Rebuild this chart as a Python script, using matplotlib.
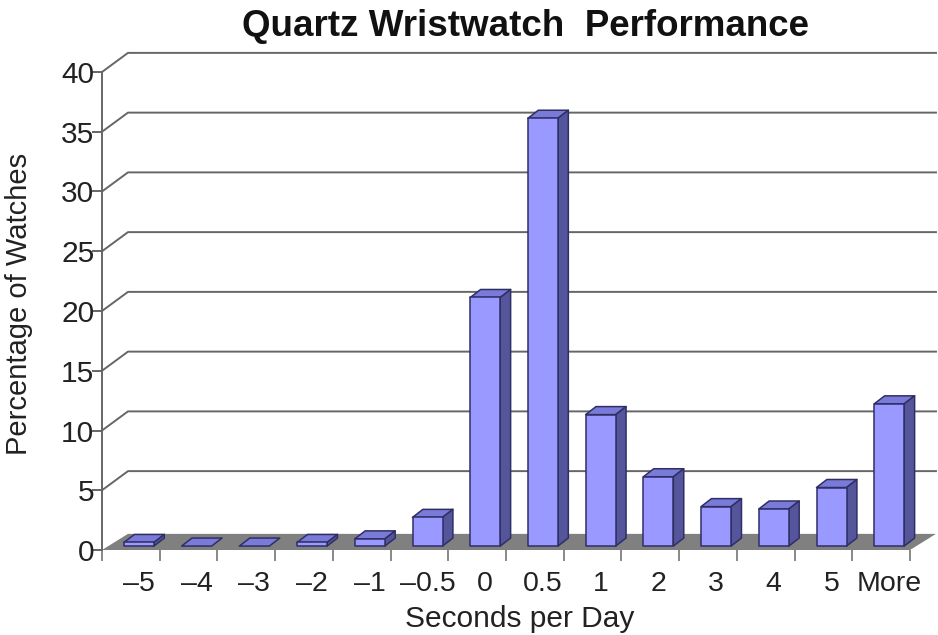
"""Quartz wristwatch chart, Excel style fake 3D columns."""

import matplotlib
matplotlib.use("Agg")
import matplotlib.pyplot as plt
from matplotlib.patches import Polygon

categories = ["–5", "–4", "–3", "–2", "–1", "–0.5", "0", "0.5", "1", "2", "3", "4", "5", "More"]
percent = [0.3, 0.0, 0.0, 0.3, 0.6, 2.4, 20.8, 35.8, 11.0, 5.8, 3.3, 3.1, 4.9, 11.9]
y_ticks = [0, 5, 10, 15, 20, 25, 30, 35, 40]

# depth of the fake 3D, in data units
WALL_DX, WALL_DY, FLOOR_DY = 0.45, 1.6, 1.35
BAR_DX, BAR_DY = 0.18, 0.67
BAR_LEFT, BAR_W, BAR_BASE = 0.38, 0.52, 0.33

GRID = "#666666"
FACE, TOP, SIDE, EDGE = "#9999ff", "#7a7ad8", "#55559c", "#2f2f66"

plt.rcParams["font.family"] = ["Liberation Sans", "DejaVu Sans"]

fig = plt.figure(figsize=(9.38, 6.35), dpi=100)
ax = fig.add_axes([102 / 938, 1 - 550 / 635, 808 / 938, 478 / 635])
n = len(categories)
ax.set_xlim(0, n)
ax.set_ylim(0, 40)
for s in ("top", "right", "bottom"):
    ax.spines[s].set_visible(False)
ax.spines["left"].set_color(GRID)
ax.spines["left"].set_linewidth(1.4)

# floor
ax.add_patch(Polygon([(0, 0), (WALL_DX, FLOOR_DY), (n + WALL_DX, FLOOR_DY), (n, 0)],
                     closed=True, fc="#808080", ec="none", clip_on=False, zorder=1))

# gridlines on the wall, with the slanted bit on the left
for v in y_ticks[1:]:
    ax.plot([0, WALL_DX, n + WALL_DX], [v, v + WALL_DY, v + WALL_DY],
            color=GRID, lw=1.4, clip_on=False, zorder=2)

# columns
for i, v in enumerate(percent):
    x0 = i + BAR_LEFT
    x1 = x0 + BAR_W
    y0 = BAR_BASE
    y1 = BAR_BASE + v
    kw = dict(closed=True, ec=EDGE, lw=1.1, clip_on=False, zorder=3, joinstyle="round")
    ax.add_patch(Polygon([(x0, y1), (x1, y1), (x1 + BAR_DX, y1 + BAR_DY), (x0 + BAR_DX, y1 + BAR_DY)],
                         fc=TOP, **kw))
    if v > 0:
        ax.add_patch(Polygon([(x1, y0), (x1 + BAR_DX, y0 + BAR_DY), (x1 + BAR_DX, y1 + BAR_DY), (x1, y1)],
                             fc=SIDE, **kw))
        ax.add_patch(Polygon([(x0, y0), (x1, y0), (x1, y1), (x0, y1)], fc=FACE, **kw))

ax.set_yticks(y_ticks)
ax.tick_params(axis="y", labelsize=21.5, length=7, width=1.4, color=GRID, pad=-1.5, labelcolor="#222222")

# labels sit a little right of the category centre, ticks on the boundaries
ax.set_xticks([i + 0.64 for i in range(n)], categories)
ax.set_xticks(range(n + 1), minor=True)
ax.tick_params(axis="x", which="major", length=0, labelsize=20.5, pad=15, labelcolor="#222222")
ax.tick_params(axis="x", which="minor", length=8, width=1.4, color="#888888")

fig.text(525 / 938, 1 - 27 / 635, "Quartz Wristwatch  Performance", ha="center", va="center",
         fontsize=26.5, fontweight="bold", color="#111111")
fig.text(520 / 938, 1 - 619 / 635, "Seconds per Day", ha="center", va="center",
         fontsize=21.5, color="#222222")
fig.text(19 / 938, 1 - 304 / 635, "Percentage of Watches", ha="center", va="center",
         rotation=90, fontsize=21, color="#222222")

fig.savefig("out.png", dpi=100)
plt.close(fig)
